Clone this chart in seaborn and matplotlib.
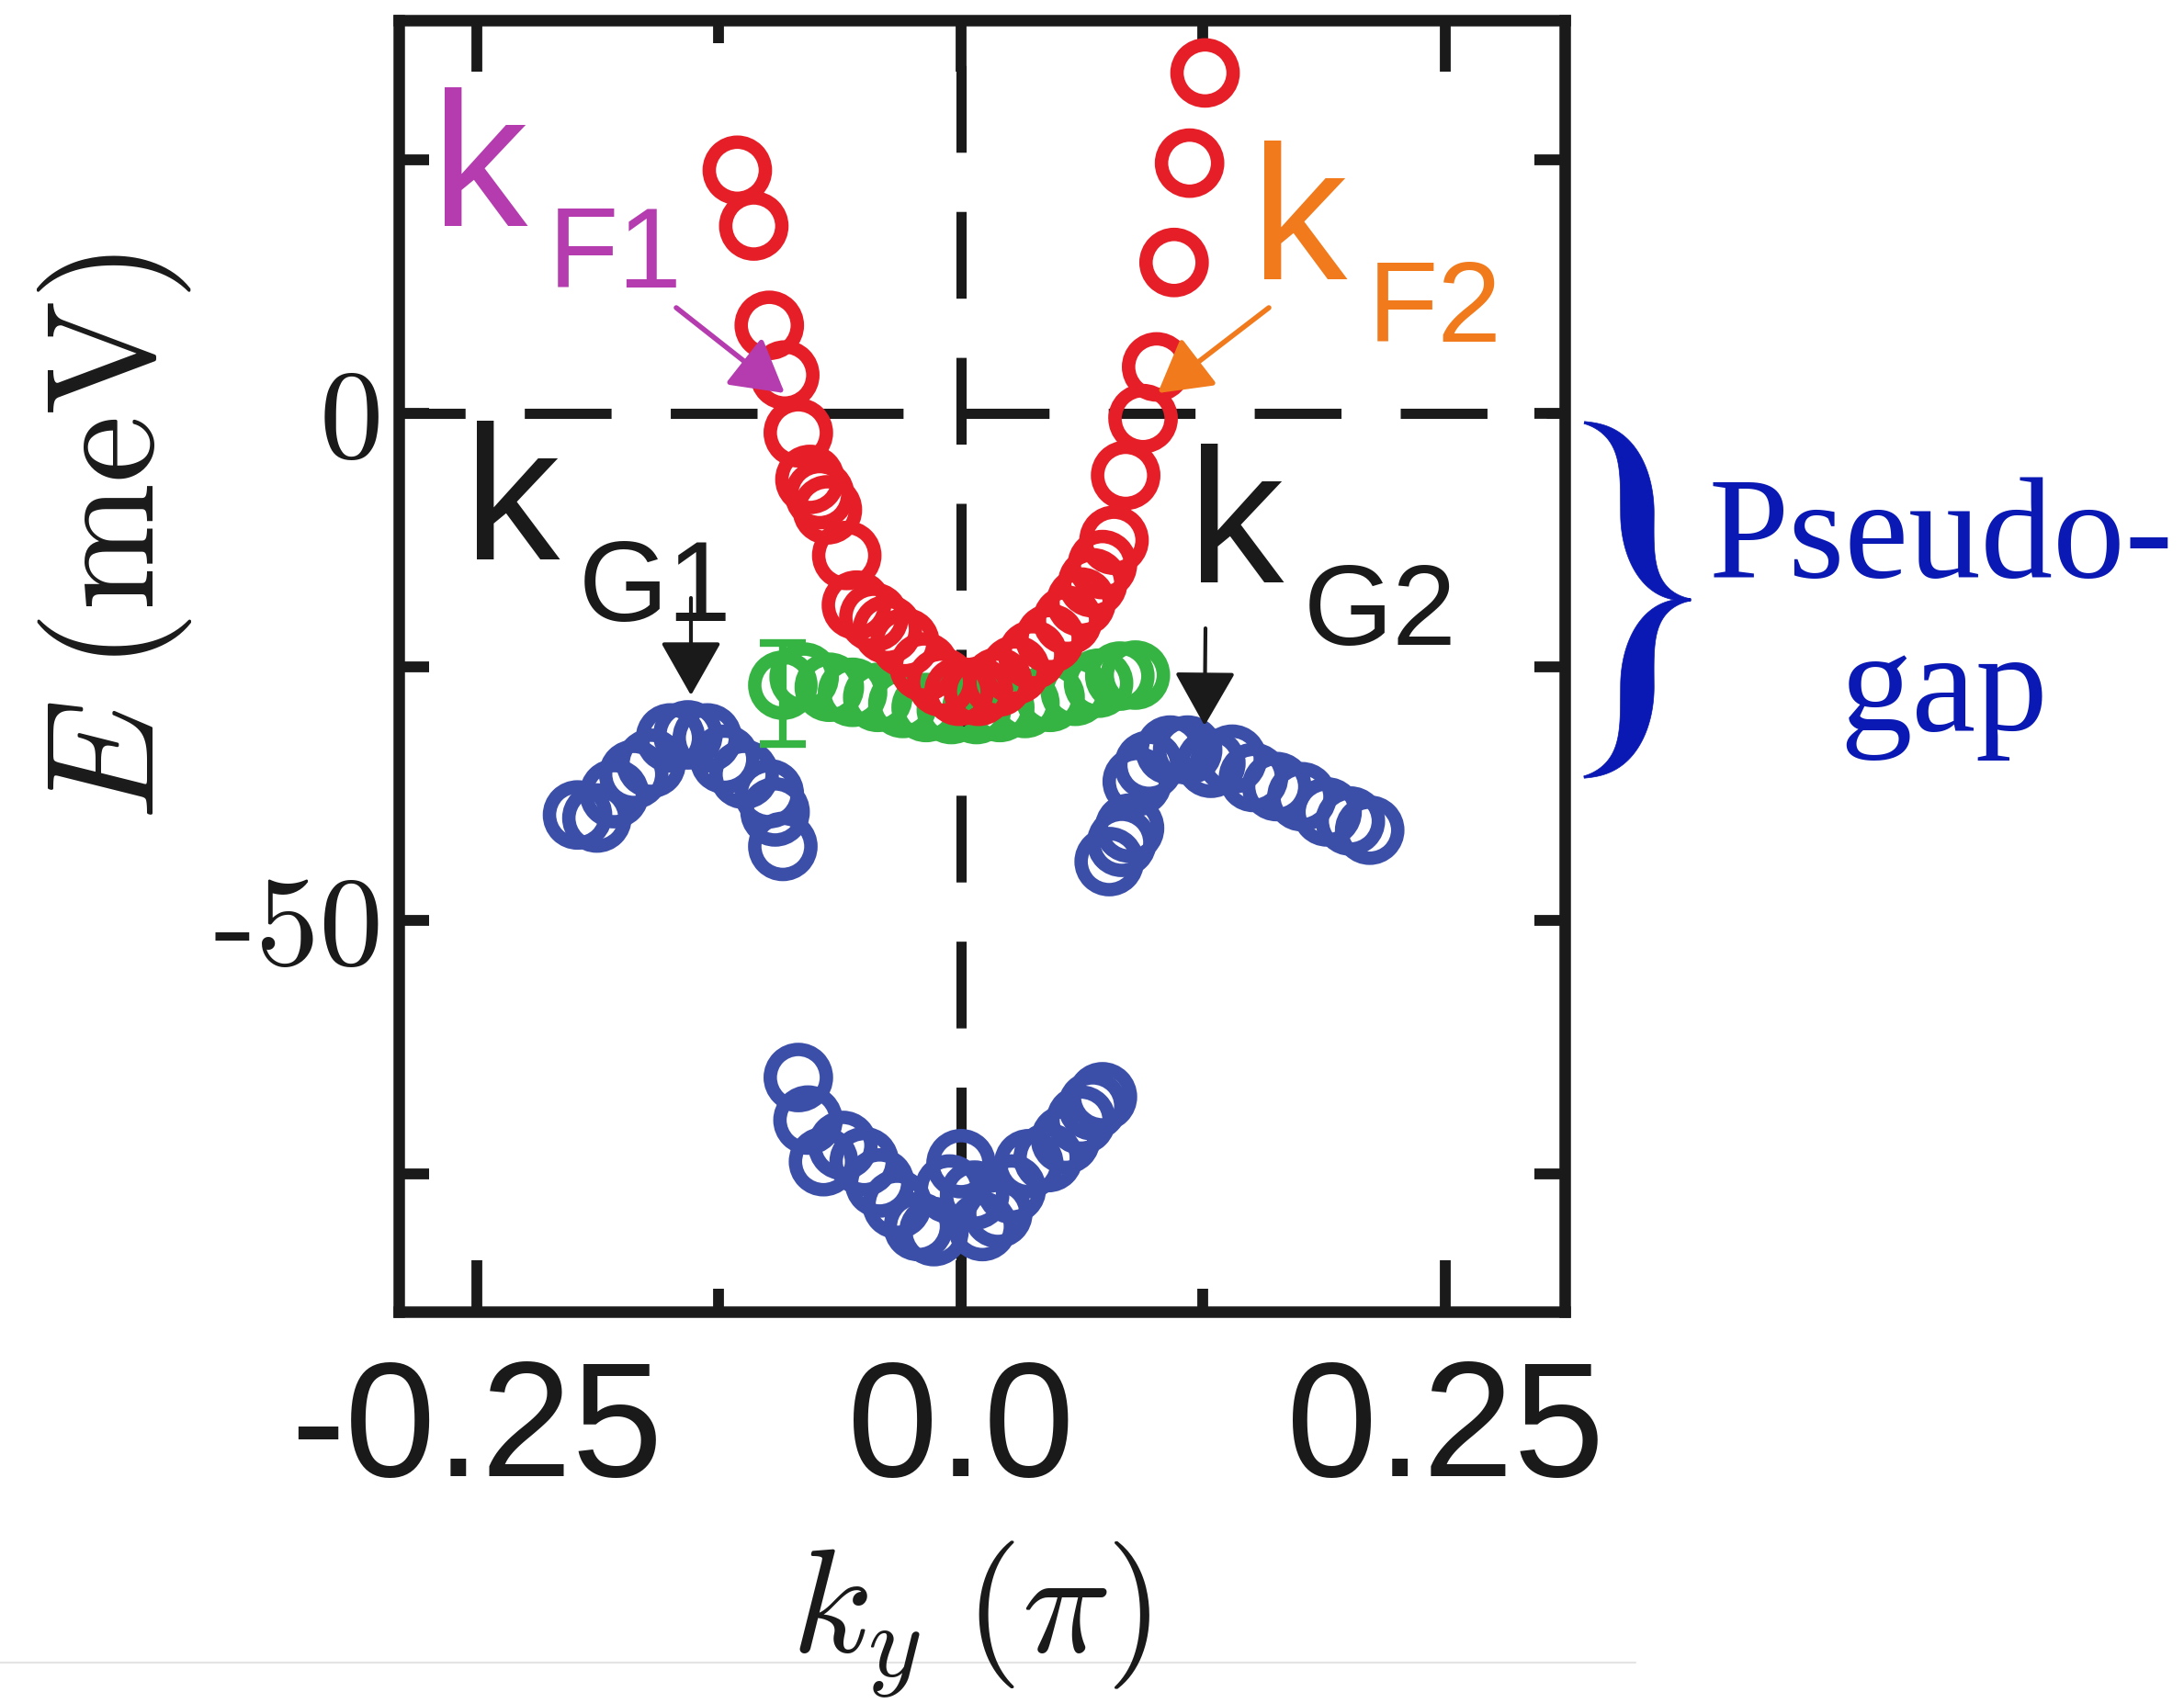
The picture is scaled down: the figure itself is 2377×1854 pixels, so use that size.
import numpy as np
import pandas as pd
import matplotlib
matplotlib.use("Agg")
import matplotlib.pyplot as plt
import seaborn as sns
from matplotlib.path import Path
from matplotlib.patches import PathPatch
from matplotlib.lines import Line2D
from matplotlib.transforms import IdentityTransform

# ---------------- data (k_y in units of pi, E in meV) ----------------
red_k = [-0.1155, -0.107, -0.099, -0.091, -0.084, -0.078, -0.073, -0.069, -0.059, -0.054,
         -0.045, -0.038, -0.029, -0.019, -0.010, -0.001,
         0.126, 0.118, 0.110, 0.101, 0.094, 0.085, 0.079, 0.073, 0.068, 0.062,
         0.055, 0.046, 0.037, 0.028, 0.019, 0.009]
red_E = [24.0, 18.5, 8.7, 3.8, -1.9, -6.5, -8.0, -9.5, -14.0, -18.9,
         -20.1, -21.3, -22.6, -25.0, -26.5, -27.4,
         33.6, 24.7, 14.9, 4.6, -0.5, -6.1, -12.5, -14.9, -16.7, -18.6,
         -20.4, -22.2, -23.8, -25.3, -26.5, -27.4]

green_k = [-0.092, -0.081, -0.068, -0.056, -0.043, -0.030, -0.018, -0.005, 0.008, 0.020,
           0.033, 0.046, 0.059, 0.071, 0.082, 0.090]
green_E = [-26.8, -26.0, -27.0, -27.5, -28.0, -28.6, -29.0, -29.2, -29.2, -29.0,
           -28.6, -28.0, -27.4, -26.6, -25.9, -25.8]
green_err_k = [-0.092]
green_err_E = [-27.6]
green_err = [5.0]

blue_left_k = [-0.198, -0.188, -0.179, -0.169, -0.160, -0.150, -0.141, -0.131, -0.122,
               -0.112, -0.099, -0.096, -0.092]
blue_left_E = [-39.6, -39.9, -37.5, -35.6, -34.5, -32.0, -31.7, -32.0, -34.1,
               -35.6, -37.5, -39.3, -42.7]
blue_right_k = [0.0765, 0.083, 0.087, 0.091, 0.097, 0.108, 0.117, 0.129, 0.140, 0.151,
                0.163, 0.176, 0.189, 0.201, 0.211]
blue_right_E = [-44.2, -42.3, -40.9, -36.3, -34.7, -33.2, -33.2, -34.5, -34.1, -35.9,
                -36.8, -37.8, -39.3, -40.2, -41.1]
blue_low_k = [-0.084, -0.079, -0.071, -0.061, -0.050, -0.042, -0.033, -0.022, -0.014, -0.006,
              0.000, 0.007, 0.011, 0.019, 0.026, 0.035, 0.045, 0.054, 0.062, 0.068, 0.073]
blue_low_E = [-65.5, -69.7, -73.8, -72.2, -73.8, -75.9, -78.0, -80.2, -80.7, -76.5,
              -74.0, -77.1, -80.2, -78.9, -76.5, -74.0, -73.4, -71.6, -69.7, -68.3, -67.4]

x_major = [-0.25, 0.0, 0.25]
x_minor = [-0.125, 0.125]
x_labels = ["-0.25", "0.0", "0.25"]
y_ticks = [25, 0, -25, -50, -75]
y_labels = ["", "0", "", "-50", ""]

RED = "#e61e27"
GREEN = "#36b443"
BLUE = "#3b4ea8"
MAGENTA = "#b43cae"
ORANGE = "#f07a1c"
PG_BLUE = "#0a19b3"
INK = "#1a1a1a"

df_red = pd.DataFrame({"k": red_k, "E": red_E})
df_green = pd.DataFrame({"k": green_k, "E": green_E})
df_blue = pd.DataFrame({"k": blue_left_k + blue_right_k + blue_low_k,
                        "E": blue_left_E + blue_right_E + blue_low_E})

# ---------------- figure ----------------
sns.set_style("white")
plt.rcParams["mathtext.fontset"] = "cm"
plt.rcParams["font.family"] = ["Liberation Sans", "DejaVu Sans"]

W, H = 2377, 1854
fig = plt.figure(figsize=(W / 100, H / 100), dpi=100)
ax = fig.add_axes([434 / W, 1 - 1428 / H, (1703 - 434) / W, (1428 - 22) / H])

ax.axhline(0, color=INK, lw=8, ls=(2.0, (8.5, 5.8)), zorder=1)
ax.axvline(0, color=INK, lw=8, ls=(0.8, (8.5, 5.8)), zorder=1)

MS = 1936
MEW = 10.5
sns.scatterplot(data=df_blue, x="k", y="E", ax=ax, s=MS, facecolors="none",
                edgecolor=BLUE, linewidth=MEW, legend=False, zorder=3)
ax.errorbar(green_err_k, green_err_E, yerr=green_err, fmt="none", ecolor=GREEN,
            elinewidth=6, capsize=18, capthick=6, zorder=4)
sns.scatterplot(data=df_green, x="k", y="E", ax=ax, s=MS, facecolors="none",
                edgecolor=GREEN, linewidth=MEW, legend=False, zorder=4)
sns.scatterplot(data=df_red, x="k", y="E", ax=ax, s=MS, facecolors="none",
                edgecolor=RED, linewidth=MEW, legend=False, zorder=5)

ax.set_xlim(-0.2903, 0.3117)
ax.set_ylim(-88.6, 38.8)

ax.set_xticks(x_major)
ax.set_xticks(x_minor, minor=True)
ax.set_xticklabels(x_labels, fontfamily="Liberation Sans", fontsize=128, color=INK)
ax.set_yticks(y_ticks)
ax.set_yticklabels(y_labels, fontfamily="cmr10", fontsize=100, color=INK)
ax.tick_params(axis="x", which="major", direction="in", length=40, width=8.5,
               top=True, bottom=True, pad=36, colors=INK)
ax.tick_params(axis="x", which="minor", direction="in", length=18, width=8.5,
               top=True, bottom=True, colors=INK)
ax.tick_params(axis="y", which="major", direction="in", length=24, width=8.5,
               left=True, right=True, pad=12, colors=INK)
for sp in ax.spines.values():
    sp.set_linewidth(9)
    sp.set_color(INK)

ax.set_xlabel(r"$k_y\;(\pi)$", fontsize=116, color=INK)
ax.xaxis.set_label_coords(0.491, -0.1764)
ax.set_ylabel(r"$E\;(\mathrm{meV})$", fontsize=120, color=INK)
ax.yaxis.set_label_coords(-0.176, 0.600)


def px(X, Y):
    return X / W, 1 - Y / H


# ---------------- annotations ----------------
def klabel(xk, yk, xs, ys, sub, color):
    fig.text(*px(xk, yk), "k", fontsize=150, color=color, ha="left", va="baseline",
             fontfamily="Liberation Sans")
    fig.text(*px(xs, ys), sub, fontsize=90, color=color, ha="left", va="baseline",
             fontfamily="Liberation Sans")


klabel(470, 246, 597, 313, "F1", MAGENTA)
klabel(1362, 304, 1489, 372, "F2", ORANGE)
klabel(505, 609, 630, 676, "G1", INK)
klabel(1293, 634, 1419, 702, "G2", INK)


def arrow(tail, tip, color, lw, hl=35, hw=20):
    ax.annotate("", xy=(tip[0], H - tip[1]), xytext=(tail[0], H - tail[1]),
                xycoords="figure pixels", textcoords="figure pixels",
                arrowprops=dict(arrowstyle=f"-|>,head_length={hl},head_width={hw}",
                                mutation_scale=1, lw=lw, color=color,
                                shrinkA=0, shrinkB=0), zorder=6)


arrow((736, 335), (854, 428), MAGENTA, 4)
arrow((1381, 335), (1260, 428), ORANGE, 4)
arrow((752, 651), (752, 757), INK, 3, hl=37, hw=21)
arrow((1312, 684), (1311, 790), INK, 3, hl=37, hw=21)

# ---------------- pseudo-gap brace and label ----------------
def bezier(p0, p1, p2, p3, n=80):
    t = np.linspace(0, 1, n)[:, None]
    p0, p1, p2, p3 = map(np.asarray, (p0, p1, p2, p3))
    return (1 - t) ** 3 * p0 + 3 * (1 - t) ** 2 * t * p1 + 3 * (1 - t) * t ** 2 * p2 + t ** 3 * p3


seg1 = bezier((1724., 460.), (1768., 468.), (1782., 505.), (1782., 560.))
seg2 = bezier((1782., 560.), (1782., 615.), (1798., 650.), (1840., 653.))
cen = np.vstack([seg1, seg2[1:]])
dist = np.r_[0, np.cumsum(np.hypot(*np.diff(cen, axis=0).T))]
s = dist / dist[-1]
wid = 2.5 + 34 * np.sin(np.pi * s) ** 1.3
tan = np.gradient(cen, axis=0)
tan /= np.hypot(tan[:, 0], tan[:, 1])[:, None]
nrm = np.c_[-tan[:, 1], tan[:, 0]]
left = cen + nrm * wid[:, None] / 2
right = cen - nrm * wid[:, None] / 2


def mirror(p):
    return np.c_[p[:, 0], 2 * 653 - p[:, 1]]


poly = np.vstack([left, mirror(left)[::-1], mirror(right), right[::-1]])
poly = np.c_[poly[:, 0], H - poly[:, 1]]
fig.add_artist(PathPatch(Path(poly), transform=IdentityTransform(),
                         facecolor=PG_BLUE, edgecolor=PG_BLUE, lw=0.5))

fig.text(*px(2112, 628), "Pseudo-", fontsize=113, color=PG_BLUE, ha="center",
         va="baseline", fontfamily="Liberation Serif")
fig.text(*px(2116, 795), "gap", fontsize=113, color=PG_BLUE, ha="center",
         va="baseline", fontfamily="Liberation Serif")

fig.add_artist(Line2D([0, 1780], [H - 1810, H - 1810], transform=IdentityTransform(),
                      color="#e4e4e4", lw=1.5, zorder=0))

fig.savefig("out.png", dpi=100)
